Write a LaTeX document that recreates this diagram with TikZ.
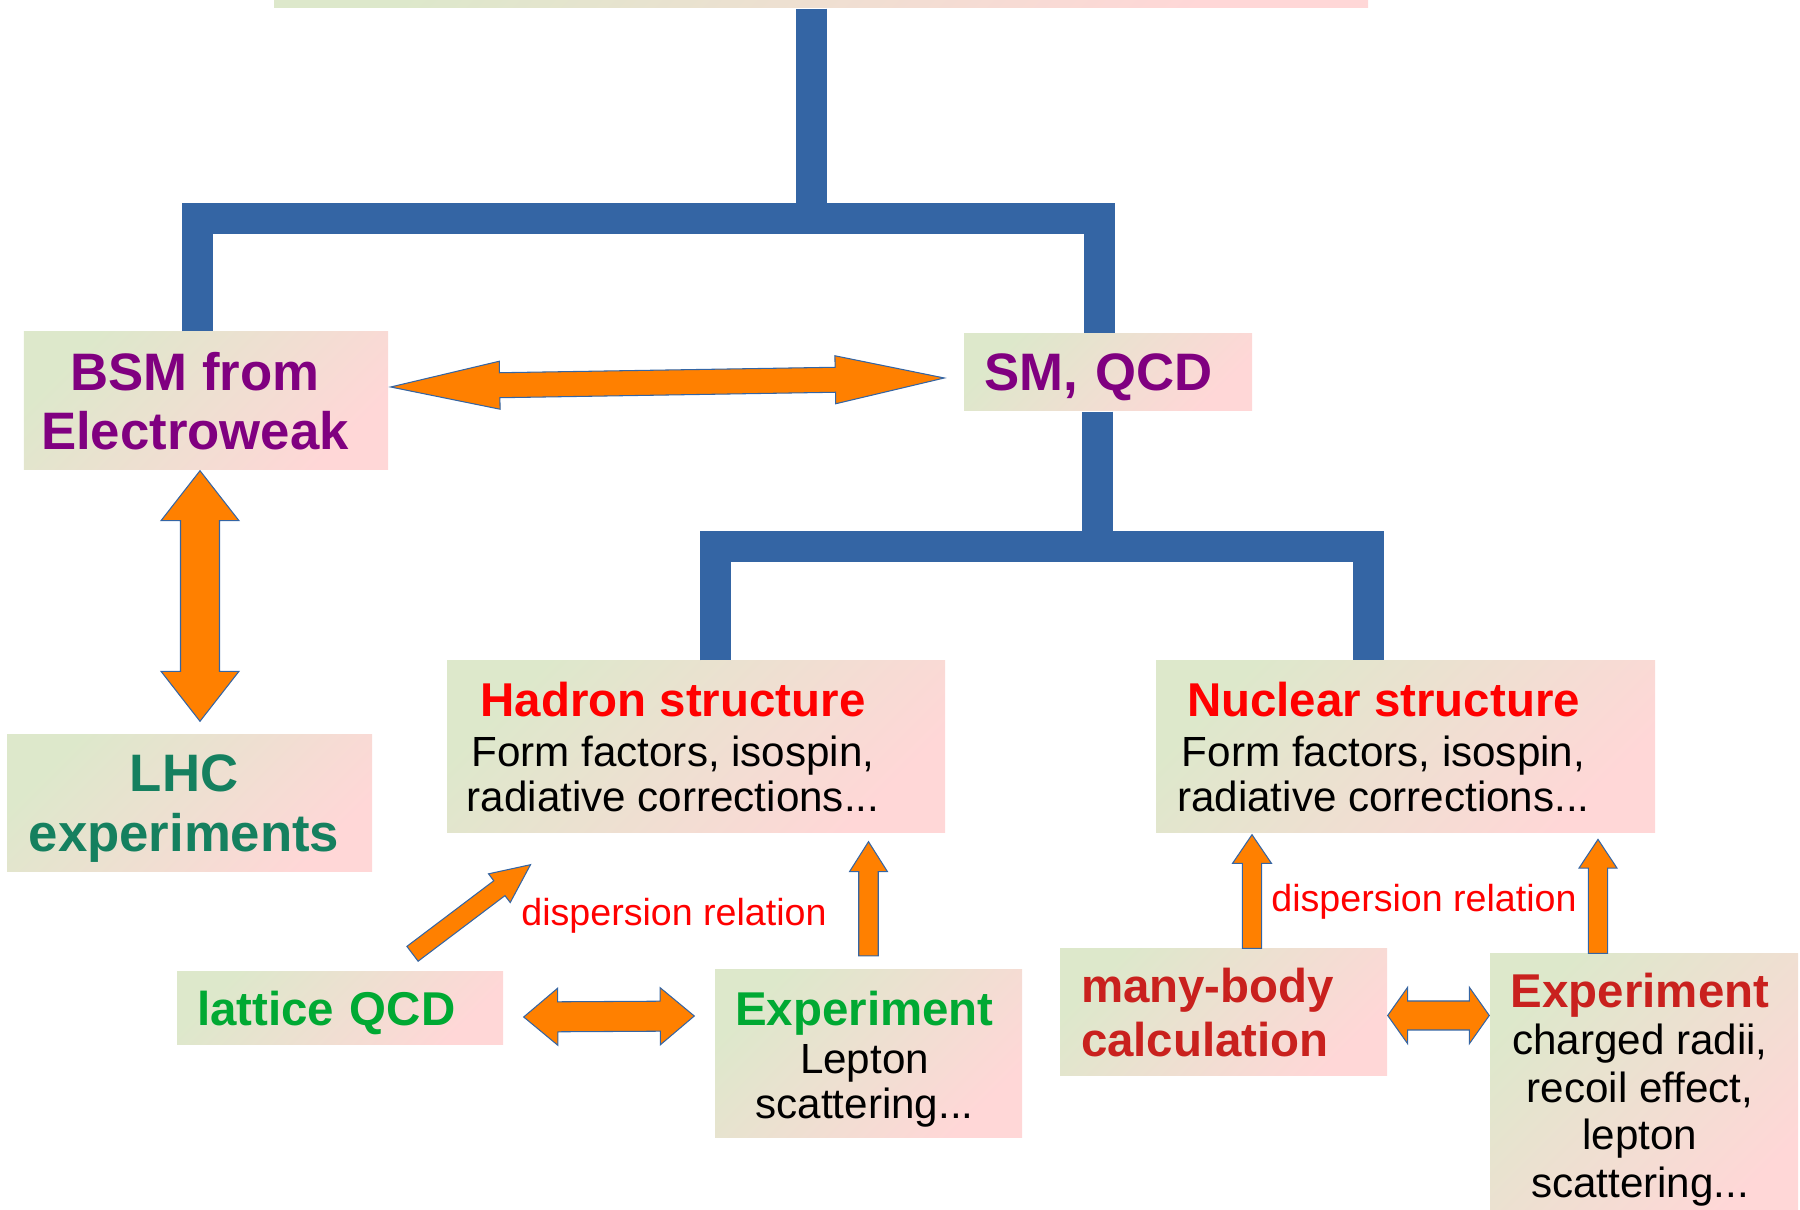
\documentclass[tikz,border=0pt]{standalone}
\usepackage{fontspec}
\setmainfont{Liberation Sans}
\usepackage{xcolor}
\usetikzlibrary{calc}

\definecolor{boxgreen}{RGB}{221,232,203}
\definecolor{boxpink}{RGB}{255,215,215}
\definecolor{treeblue}{RGB}{52,101,164}
\definecolor{arroworange}{RGB}{255,128,0}
\definecolor{bsmpurple}{RGB}{128,0,128}
\definecolor{lhcgreen}{RGB}{21,128,95}
\definecolor{latgreen}{RGB}{0,169,51}
\definecolor{hadred}{RGB}{255,0,0}
\definecolor{mbred}{RGB}{201,33,30}

\newcommand{\boxtitle}{\fontsize{13.5}{15}\selectfont\bfseries}

% double block arrow: tip, tip, shaft half width, head half width, head length
\newcommand{\dblarrow}[5]{%
  \path (#1) coordinate (da) (#2) coordinate (db)
    ($(da)!#5!(db)$) coordinate (dha) ($(db)!#5!(da)$) coordinate (dhb);
  \filldraw[blockarrow] (da) -- ($(dha)!#4!90:(db)$) -- ($(dha)!#3!90:(db)$)
    -- ($(dhb)!#3!-90:(da)$) -- ($(dhb)!#4!-90:(da)$) -- (db)
    -- ($(dhb)!#4!90:(da)$) -- ($(dhb)!#3!90:(da)$)
    -- ($(dha)!#3!-90:(db)$) -- ($(dha)!#4!-90:(db)$) -- cycle;
}
% single block arrow: tail, tip, shaft half width, head half width, head length
\newcommand{\sglarrow}[5]{%
  \path (#1) coordinate (sa) (#2) coordinate (sb)
    ($(sb)!#5!(sa)$) coordinate (shb);
  \filldraw[blockarrow] ($(sa)!#3!90:(sb)$) -- ($(shb)!#3!-90:(sa)$)
    -- ($(shb)!#4!-90:(sa)$) -- (sb) -- ($(shb)!#4!90:(sa)$)
    -- ($(shb)!#3!90:(sa)$) -- ($(sa)!#3!-90:(sb)$) -- cycle;
}

\begin{document}
\begin{tikzpicture}[
    box/.style={rectangle, top color=boxgreen, bottom color=boxpink, shading angle=45, inner sep=0pt, align=center},
    bigtext/.style={font=\fontsize{15}{16.6}\selectfont\bfseries, align=center},
    bodytext/.style={font=\fontsize{12}{13}\selectfont, align=center},
    disp/.style={text=hadred, font=\fontsize{10.7}{12}\selectfont, anchor=base},
    tree/.style={draw=treeblue, line width=0.31cm},
    blockarrow/.style={fill=arroworange, draw=treeblue, line width=0.3pt}
]
\useasboundingbox (0,0) rectangle (18,-12.1);

\node[box, minimum width=10.94cm, minimum height=0.5cm] (top) at (8.21,0.17) {};
\node[box, minimum width=3.64cm, minimum height=1.38cm,
      label={[bigtext, text=bsmpurple, xshift=-0.11cm]center:{BSM from\\Electroweak}}] (bsm) at (2.06,-4.01) {};
\node[box, minimum width=2.88cm, minimum height=0.77cm, inner xsep=0.2cm, text width=2.48cm, align=left, text depth=0pt,
      font=\fontsize{15}{16.6}\selectfont\bfseries, text=bsmpurple] (smqcd) at (11.08,-3.725) {SM, QCD};
\node[box, minimum width=3.65cm, minimum height=1.37cm, text depth=0pt,
      label={[bigtext, font=\fontsize{15}{17}\selectfont\bfseries, text=lhcgreen, xshift=-0.055cm, yshift=-0.05cm]center:{LHC\\experiments}}] (lhc) at (1.895,-8.035) {};
\node[box, minimum width=4.98cm, minimum height=1.72cm,
      label={[bodytext, xshift=-0.23cm]center:{{\boxtitle\color{hadred}Hadron structure}\\[1.3pt]Form factors, isospin,\\radiative corrections...}}] (hadron) at (6.96,-7.47) {};
\node[box, minimum width=4.99cm, minimum height=1.72cm,
      label={[bodytext, xshift=-0.22cm]center:{{\boxtitle\color{hadred}Nuclear structure}\\[1.3pt]Form factors, isospin,\\radiative corrections...}}] (nuclear) at (14.055,-7.47) {};
\node[box, minimum width=3.26cm, minimum height=0.73cm, inner xsep=0.2cm, text width=2.86cm, align=left, text depth=0pt,
      font=\boxtitle, text=latgreen] (lattice) at (3.40,-10.085) {lattice QCD};
\node[box, minimum width=3.07cm, minimum height=1.68cm,
      label={[bodytext, font=\fontsize{12}{12.7}\selectfont, xshift=-0.04cm, yshift=-0.05cm]center:{{\boxtitle\color{latgreen}Experiment}\\[1.1pt]Lepton\\scattering...}}]
      (hexp) at (8.685,-10.54) {};
\node[box, minimum width=3.27cm, minimum height=1.27cm, inner xsep=0.21cm, text width=2.85cm, align=left,
      font=\fontsize{13.5}{15.3}\selectfont\bfseries, text=mbred] (manybody) at (12.235,-10.125) {many-body\\calculation};
\node[box, minimum width=3.08cm, minimum height=2.71cm,
      label={[bodytext, font=\fontsize{12}{13.5}\selectfont, xshift=-0.04cm]center:{{\boxtitle\color{mbred}Experiment}\\charged radii,\\recoil effect,\\lepton\\scattering...}}]
      (nexp) at (16.44,-10.895) {};

\node[disp] (disp1) at (6.74,-9.26) {dispersion relation};
\node[disp] (disp2) at (14.24,-9.12) {dispersion relation};

% tree
\coordinate (split1) at (8.11,-2.19);
\coordinate (split2) at (10.97,-5.465);
\draw[tree] (top.south -| split1) -- (split1);
\draw[tree] ([xshift=-0.09cm]bsm.north) |- (split1) -| ([xshift=-0.09cm]smqcd.north);
\draw[tree] (smqcd.south -| split2) -- (split2);
\draw[tree] ([xshift=0.19cm]hadron.north) |- (split2) -| ([xshift=-0.375cm]nuclear.north);

% block arrows
\dblarrow{$(bsm.east)+(0.02,0.14)$}{$(smqcd.west)+(-0.19,-0.055)$}{0.125cm}{0.24cm}{1.09cm}
\dblarrow{$(bsm.south)+(-0.06,0)$}{$(lhc.north)+(0.105,0.13)$}{0.195cm}{0.39cm}{0.5cm}
\sglarrow{$(lattice.north)+(0.725,0.175)$}{$(hadron.south)+(-1.655,-0.31)$}{0.093cm}{0.18cm}{0.39cm}
\sglarrow{$(hexp.north)+(0,0.135)$}{$(hexp.north |- hadron.south)+(0,-0.08)$}{0.0975cm}{0.19cm}{0.3cm}
\dblarrow{$(lattice.east)+(0.2,-0.085)$}{$(hexp.west)+(-0.2,0.38)$}{0.15cm}{0.285cm}{0.34cm}
\sglarrow{$(manybody.north)+(0.285,0)$}{$(manybody.north |- nuclear.south)+(0.285,-0.01)$}{0.097cm}{0.195cm}{0.287cm}
\sglarrow{$(nexp.north)+(-0.46,0)$}{$(nexp.north |- nuclear.south)+(-0.46,-0.057)$}{0.097cm}{0.19cm}{0.287cm}
\dblarrow{$(manybody.east)+(0,-0.03)$}{$(nexp.west)+(0,0.74)$}{0.145cm}{0.283cm}{0.2cm}

\end{tikzpicture}
\end{document}
